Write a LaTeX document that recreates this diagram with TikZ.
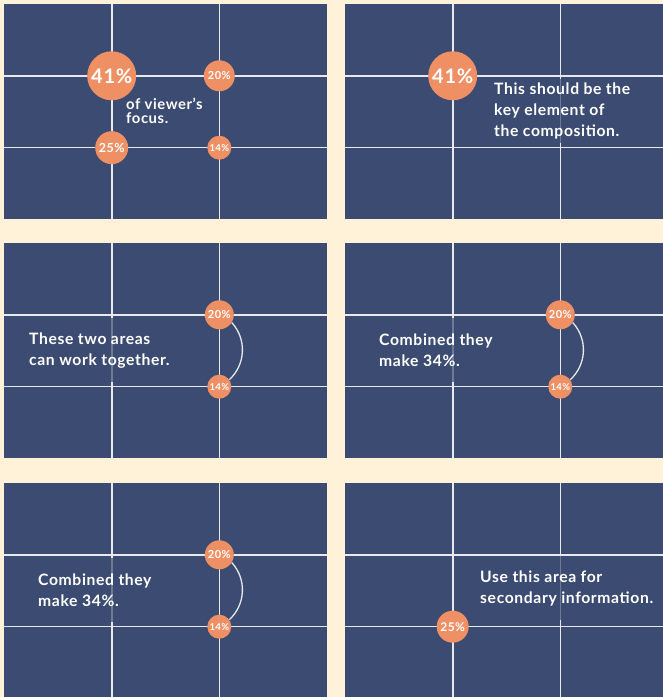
\documentclass[tikz,border=0pt]{standalone}
\usepackage{fontspec}
\setmainfont{Lato}[LetterSpace=4]
\usepackage{tikz}
\usetikzlibrary{positioning}

\definecolor{cream}{HTML}{FFF2D9}
\definecolor{panelblue}{HTML}{3B4B71}
\definecolor{spotorange}{HTML}{EF9064}
\definecolor{gridwhite}{HTML}{E8E9EF}

\begin{document}
\begin{tikzpicture}[
  x=1pt, y=1pt,
  panel/.style={fill=panelblue},
  rule/.style={draw=gridwhite, line width=1.6pt},
  spot/.style={circle, fill=spotorange, text=white, inner sep=0pt},
  spotL/.style={spot, minimum size=49pt, font=\bfseries\fontsize{20}{20}\selectfont},
  spotM/.style={spot, minimum size=31pt, font=\bfseries\fontsize{11}{11}\selectfont},
  spotS/.style={spot, minimum size=24pt, font=\bfseries\fontsize{9.5}{9.5}\selectfont},
  note/.style={text=white, align=left, anchor=west, inner sep=4pt, font=\bfseries\fontsize{15.7}{21}\selectfont},
  veil/.style={fill=panelblue, fill opacity=0.7, text opacity=1, minimum height=64pt},
  link/.style={draw=gridwhite, line width=1.3pt}
]
\useasboundingbox (0,0) rectangle (663,697);
\fill[cream] (0,0) rectangle (663,697);

% six panels, each a 3x3 grid
\foreach \px/\py in {4/693, 345/693, 4/454, 345/454, 4/214, 345/214} {
  \fill[panel] (\px,\py) rectangle ++(323,-215.5);
  \draw[rule] (\px+107.7,\py) -- ++(0,-215.5);
  \draw[rule] (\px+215.3,\py) -- ++(0,-215.5);
  \draw[rule] (\px,\py-71.8) -- ++(323,0);
  \draw[rule] (\px,\py-143.7) -- ++(323,0);
}

% panel 1
\node[spotL] (c41a) at (111.7,621.2) {41\%};
\node[spotM] (c20a) at (219.3,621.2) {20\%};
\node[spotM, minimum size=33pt, font=\bfseries\fontsize{12.5}{12.5}\selectfont] (c25a) at (111.7,549.3) {25\%};
\node[spotS] (c14a) at (219.3,549.3) {14\%};
\node[note, font=\bfseries\fontsize{14.8}{14.5}\selectfont] (focus) at (122,586) {of viewer’s\\focus.};

% panel 2
\node[spotL] (c41b) at (452.7,621.2) {41\%};
\node[note, veil] (key) at (490,586) {This should be the\\key element of\\the composition.};

% panel 3
\node[spotM, minimum size=29pt] (c20c) at (219.3,382.2) {20\%};
\node[spotS] (c14c) at (219.3,310.3) {14\%};
\node[note, veil] (together) at (25,346.5) {These two areas\\can work together.};
\draw[link] (c20c.-32) to[bend left=45] (c14c.35);

% panel 4
\node[spotM, minimum size=29pt] (c20d) at (560.3,382.2) {20\%};
\node[spotS] (c14d) at (560.3,310.3) {14\%};
\node[note, veil] (combinedd) at (375,346.5) {Combined they\\make 34\%.};
\draw[link] (c20d.-32) to[bend left=45] (c14d.35);

% panel 5
\node[spotM, minimum size=29pt] (c20e) at (219.3,142.2) {20\%};
\node[spotS] (c14e) at (219.3,70.3) {14\%};
\node[note, veil] (combinede) at (34,106.5) {Combined they\\make 34\%.};
\draw[link] (c20e.-32) to[bend left=45] (c14e.35);

% panel 6
\node[spotM, minimum size=32pt, font=\bfseries\fontsize{12}{12}\selectfont] (c25f) at (452.7,70.3) {25\%};
\node[note, veil] (secondary) at (476,109) {Use this area for\\secondary information.};
\end{tikzpicture}
\end{document}
